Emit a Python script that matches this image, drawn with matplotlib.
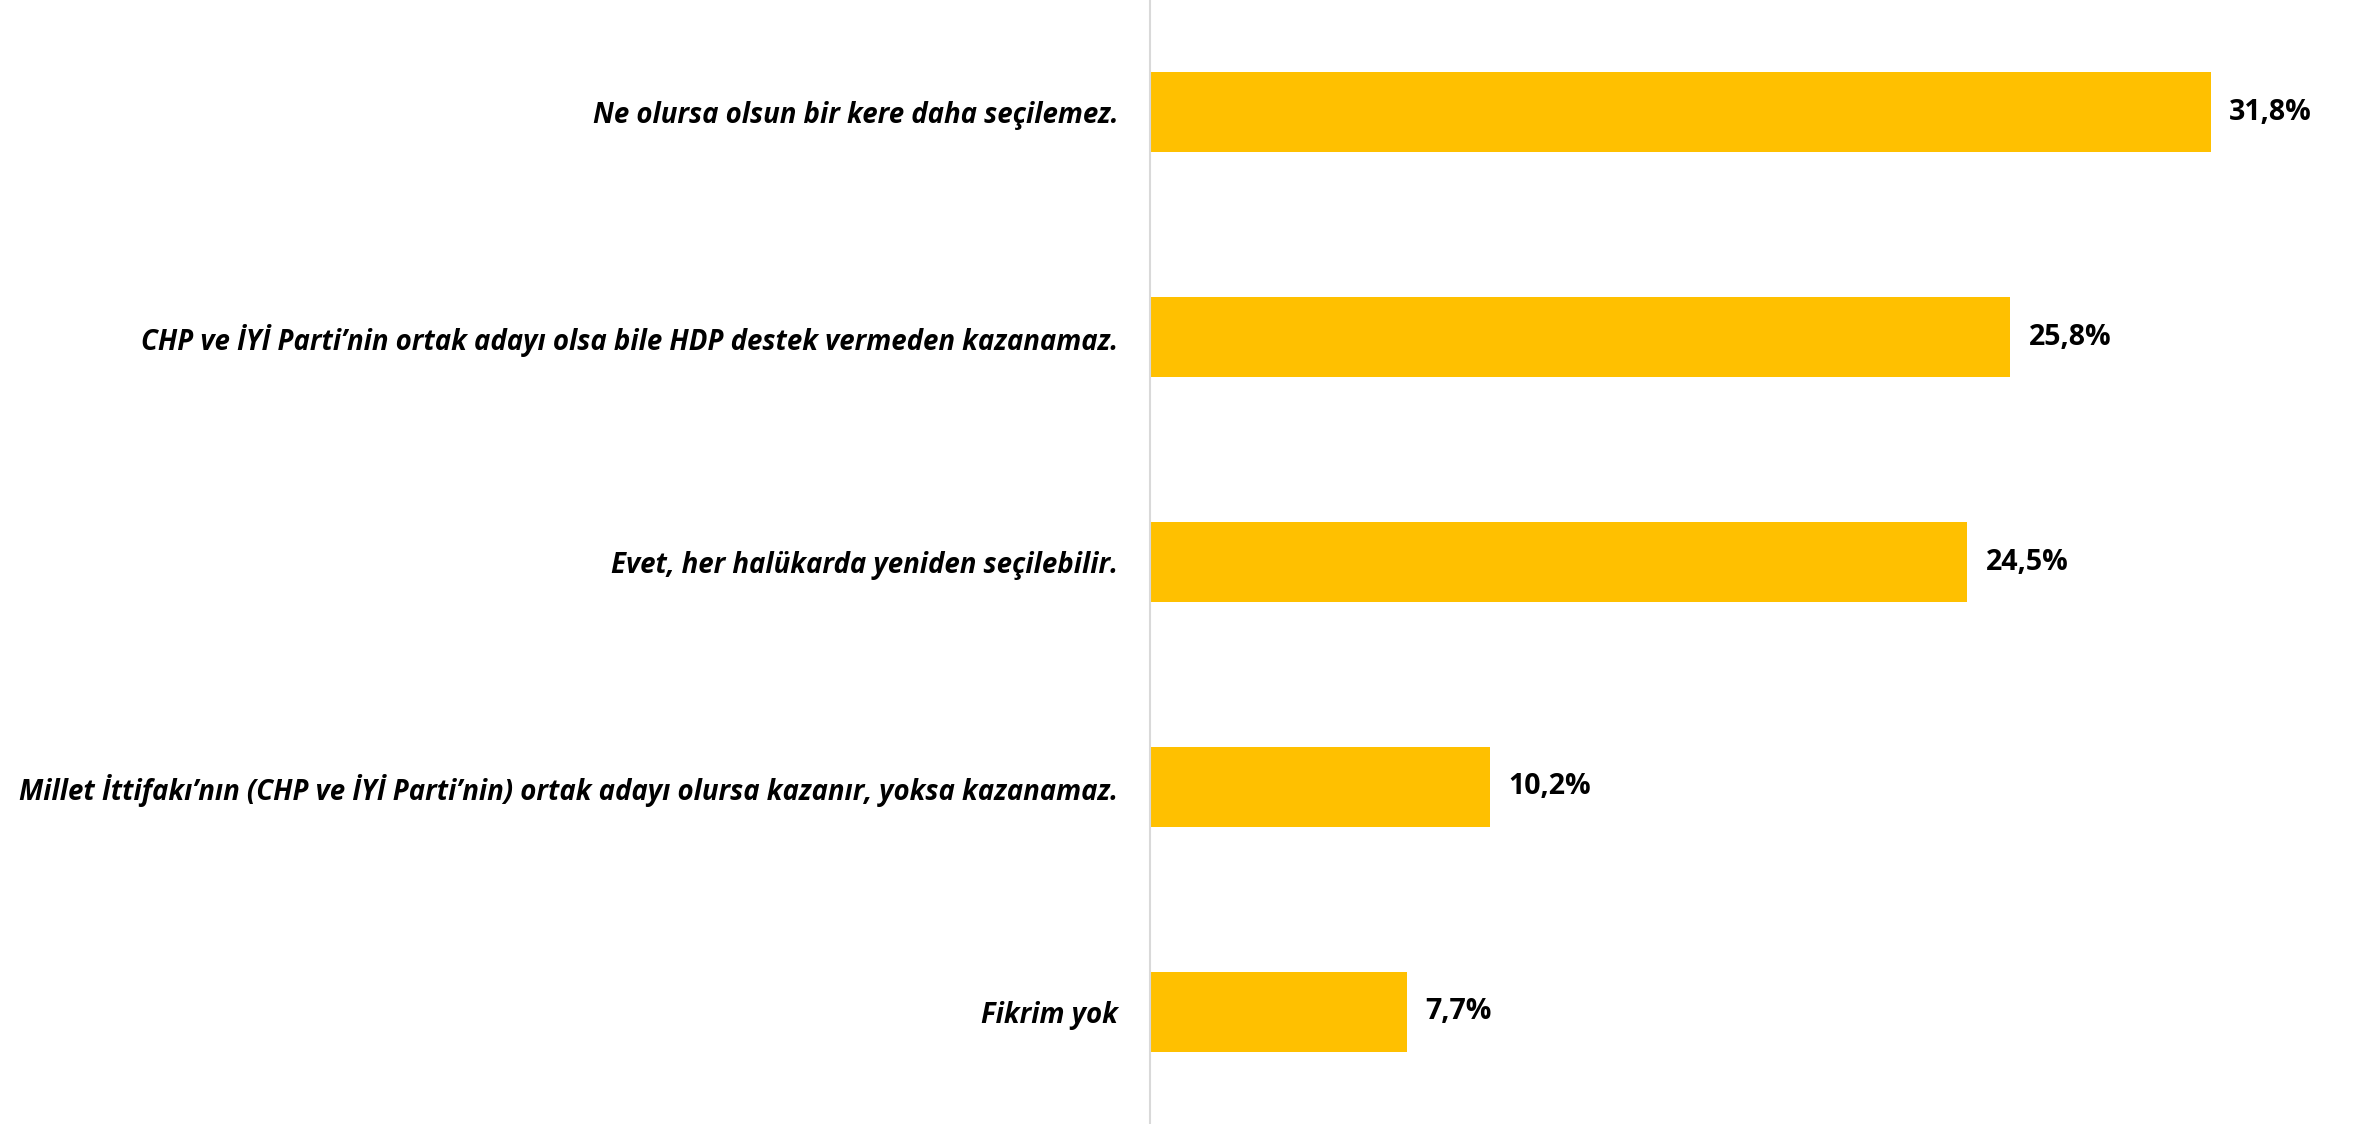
import matplotlib.pyplot as plt

# 데이터
categories = [
    "Ne olursa olsun bir kere daha seçilemez.",
    "CHP ve İYİ Parti’nin ortak adayı olsa bile HDP destek vermeden kazanamaz.",
    "Evet, her halükarda yeniden seçilebilir.",
    "Millet İttifakı’nın (CHP ve İYİ Parti’nin) ortak adayı olursa kazanır, yoksa kazanamaz.",
    "Fikrim yok",
]
values = [31.8, 25.8, 24.5, 10.2, 7.7]
value_labels = ["31,8%", "25,8%", "24,5%", "10,2%", "7,7%"]

fonts = ['Open Sans', 'DejaVu Sans']

fig = plt.figure(figsize=(23.53, 11.24), dpi=100)
ax = fig.add_axes([1150 / 2353, 0, 1 - 1150 / 2353, 1])

y_pos = list(range(len(categories)))
ax.barh(y_pos, values, height=0.356, color="#FFC000")

ax.set_ylim(len(categories) - 0.5, -0.5)
ax.set_xlim(0, 36.07)

# 값 라벨
for y, v, lab in zip(y_pos, values, value_labels):
    ax.text(v + 0.55, y, lab, ha='left', va='center', fontsize=20.5,
            fontweight='bold', family=fonts, color='black')

# 카테고리 라벨
ax.set_yticks(y_pos)
ax.set_yticklabels(categories, fontsize=19.9, fontweight='bold', fontstyle='italic', family=fonts)
ax.tick_params(axis='y', length=0, pad=23)
ax.set_xticks([])

for s in ['top', 'right', 'bottom']:
    ax.spines[s].set_visible(False)
ax.spines['left'].set_color('#D9D9D9')
ax.spines['left'].set_linewidth(1.5)

fig.savefig("out.png", dpi=100)
